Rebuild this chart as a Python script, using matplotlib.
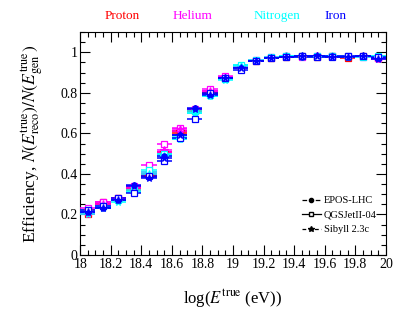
import matplotlib
matplotlib.use("Agg")
import matplotlib.pyplot as plt
import numpy as np
from matplotlib.lines import Line2D
from matplotlib.ticker import MultipleLocator

plt.rcParams['font.family'] = ['Liberation Serif', 'DejaVu Serif']
plt.rcParams['mathtext.fontset'] = 'stix'

bin_centers = [18.05 + 0.1 * i for i in range(20)]

proton_epos = [0.21,0.25,0.28,0.33,0.40,0.51,0.61,0.72,0.81,0.88,0.93,0.955,0.97,0.978,0.98,0.98,0.98,0.975,0.98,0.975]
proton_qgs = [0.20,0.26,0.28,0.32,0.40,0.50,0.60,0.71,0.80,0.875,0.925,0.955,0.972,0.978,0.98,0.978,0.98,0.972,0.98,0.97]
proton_sib = [0.22,0.25,0.27,0.33,0.39,0.51,0.61,0.72,0.81,0.88,0.93,0.958,0.97,0.98,0.978,0.98,0.975,0.978,0.98,0.975]

helium_epos = [0.20,0.26,0.28,0.34,0.41,0.51,0.61,0.72,0.81,0.88,0.925,0.958,0.97,0.975,0.98,0.98,0.98,0.978,0.98,0.965]
helium_qgs = [0.23,0.26,0.28,0.34,0.443,0.548,0.627,0.72,0.82,0.885,0.93,0.96,0.975,0.98,0.978,0.982,0.98,0.98,0.978,0.97]
helium_sib = [0.21,0.25,0.27,0.33,0.40,0.52,0.62,0.72,0.81,0.88,0.93,0.955,0.972,0.98,0.98,0.98,0.978,0.978,0.98,0.972]

nitrogen_epos = [0.21,0.24,0.27,0.31,0.41,0.50,0.57,0.70,0.785,0.87,0.935,0.955,0.97,0.98,0.978,0.98,0.978,0.978,0.98,0.98]
nitrogen_qgs = [0.22,0.24,0.27,0.32,0.42,0.50,0.58,0.71,0.79,0.87,0.935,0.96,0.975,0.982,0.98,0.98,0.98,0.98,0.978,0.98]
nitrogen_sib = [0.20,0.23,0.26,0.31,0.40,0.49,0.57,0.70,0.785,0.865,0.93,0.958,0.97,0.98,0.98,0.978,0.98,0.978,0.98,0.975]

iron_epos = [0.21,0.23,0.27,0.345,0.385,0.487,0.594,0.726,0.796,0.875,0.92,0.955,0.972,0.978,0.978,0.98,0.98,0.978,0.98,0.97]
iron_qgs = [0.22,0.24,0.28,0.305,0.39,0.463,0.575,0.673,0.80,0.872,0.915,0.955,0.97,0.978,0.98,0.978,0.978,0.98,0.98,0.975]
iron_sib = [0.21,0.23,0.27,0.34,0.38,0.48,0.59,0.72,0.79,0.875,0.92,0.955,0.972,0.978,0.98,0.98,0.978,0.978,0.98,0.965]

primaries = ['Proton', 'Helium', 'Nitrogen', 'Iron']
colors = ['#ff0000', '#ff00ff', '#00ffff', '#0000ff']
models = ['EPOS-LHC', 'QGSJetII-04', 'Sibyll 2.3c']
data = {
    'Proton': [proton_epos, proton_qgs, proton_sib],
    'Helium': [helium_epos, helium_qgs, helium_sib],
    'Nitrogen': [nitrogen_epos, nitrogen_qgs, nitrogen_sib],
    'Iron': [iron_epos, iron_qgs, iron_sib],
}

fig = plt.figure(figsize=(4.07, 3.19), dpi=100)
ax = fig.add_axes([0.197, 0.2006, 0.751, 0.6991])

markers = ['o', 's', '*']
msizes = [3.8, 3.8, 5.5]
for prim, col in zip(primaries, colors):
    for k in range(3):
        y = np.array(data[prim][k])
        fc = col if markers[k] != 's' else 'white'
        ax.errorbar(bin_centers, y, xerr=0.05, yerr=0.008, fmt=markers[k],
                    color=col, mfc=fc, mec=col, ms=msizes[k], mew=0.9,
                    elinewidth=1.1, capsize=0, zorder=3)

ax.set_xlim(18, 20)
ax.set_ylim(0, 1.1)
ax.xaxis.set_major_locator(MultipleLocator(0.2))
ax.xaxis.set_minor_locator(MultipleLocator(0.05))
ax.yaxis.set_major_locator(MultipleLocator(0.2))
ax.yaxis.set_minor_locator(MultipleLocator(0.05))
ax.set_xticks([18,18.2,18.4,18.6,18.8,19,19.2,19.4,19.6,19.8,20])
ax.set_xticklabels(['18','18.2','18.4','18.6','18.8','19','19.2','19.4','19.6','19.8','20'])
ax.set_yticks([0,0.2,0.4,0.6,0.8,1])
ax.set_yticklabels(['0','0.2','0.4','0.6','0.8','1'])
ax.tick_params(which='both', direction='in', top=True, right=True, labelsize=10, width=0.8)
ax.tick_params(which='major', length=7)
ax.tick_params(which='minor', length=3.5)
ax.tick_params(axis='x', pad=2)
ax.tick_params(axis='y', pad=2)
for s in ax.spines.values():
    s.set_linewidth(0.8)

ax.set_xlabel(r'log($E^{\rm true}$ (eV))', fontsize=12, labelpad=12)
ax.set_ylabel(r'Efficiency, $N(E^{\rm true}_{\rm reco})/N(E^{\rm true}_{\rm gen})$', fontsize=12.5, labelpad=10)

xs_lab = [122, 193, 277, 336]
for prim, col, xp in zip(primaries, colors, xs_lab):
    fig.text(xp / 407, 1 - 16 / 319, prim, color=col, fontsize=9.5, ha='center', va='center')

handles = [
    Line2D([], [], color='black', ls='--', marker='o', ms=3, lw=0.9),
    Line2D([], [], color='black', ls='-', marker='s', ms=3.5, mfc='white', lw=0.9),
    Line2D([], [], color='black', ls=(0, (3, 2)), marker='*', ms=4, lw=0.9),
]
ax.legend(handles, models, loc='lower right', bbox_to_anchor=(0.99, 0.065), frameon=False,
          fontsize=7.5, handlelength=1.8, handletextpad=0.3, labelspacing=0.5, borderaxespad=0.2)

fig.savefig('out.png', dpi=100)
